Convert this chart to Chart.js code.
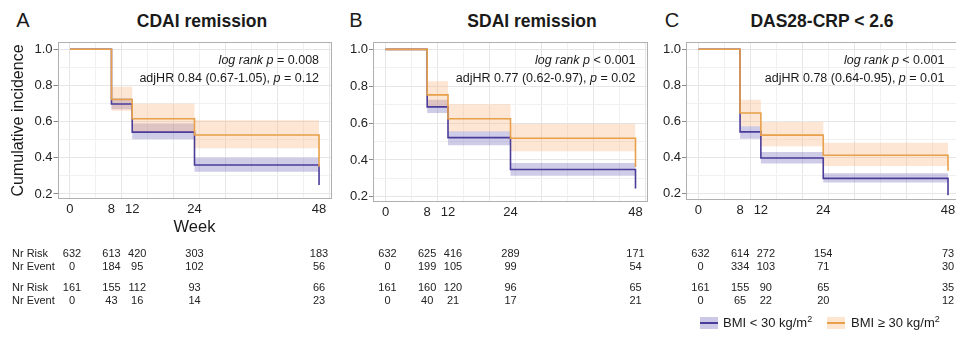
<!DOCTYPE html>
<html>
<head>
<meta charset="utf-8">
<script src="https://cdn.jsdelivr.net/npm/chart.js@4.4.0/dist/chart.umd.min.js"></script>
<style>
  body { margin: 0; width: 956px; height: 337px; overflow: hidden; background: #fff;
         font-family: Arial, "Liberation Sans", sans-serif; position: relative; color: #1a1a1a; }
  canvas { position: absolute; top: 0; }
  .titulo { position: absolute; top: 11px; font-size: 17.5px; font-weight: bold; white-space: nowrap; transform: translateX(-50%); }
  .letra { position: absolute; top: 9px; font-size: 20px; transform: translateX(-50%); }
  .clave { position: absolute; top: 317px; width: 18px; height: 12px; }
  .clave i { position: absolute; left: 0; right: 0; top: 5px; height: 2px; }
  .texto { position: absolute; top: 314px; font-size: 13px; white-space: nowrap; }
</style>
</head>
<body>
<div class="letra" style="left:23px">A</div>
<div class="letra" style="left:356px">B</div>
<div class="letra" style="left:672px">C</div>
<div class="titulo" style="left:202px">CDAI remission</div>
<div class="titulo" style="left:532px">SDAI remission</div>
<div class="titulo" style="left:822px">DAS28-CRP &lt; 2.6</div>

<canvas id="panelA" width="340" height="337" style="left:0px"></canvas>
<canvas id="panelB" width="320" height="337" style="left:335px"></canvas>
<canvas id="panelC" width="312" height="337" style="left:650px"></canvas>

<div class="clave" style="left:700px;background:rgba(110,100,185,0.35)"><i style="background:#4b3c9a"></i></div>
<div class="texto" style="left:723px">BMI &lt; 30 kg/m<sup style="font-size:9px">2</sup></div>
<div class="clave" style="left:827px;background:rgba(248,180,120,0.35)"><i style="background:#e8a04a"></i></div>
<div class="texto" style="left:851px">BMI ≥ 30 kg/m<sup style="font-size:9px">2</sup></div>

<script>
/* Semanas y marcas de los ejes */
const semanas = [0, 8, 12, 24, 48];
const etiquetasX = [0, 8, 12, 24, 48];
const gridX = [0, 5, 10, 15, 20, 25, 30, 35, 40, 45, 50];
const etiquetasY = [0.2, 0.4, 0.6, 0.8, 1.0];
const gridY = [0.2, 0.3, 0.4, 0.5, 0.6, 0.7, 0.8, 0.9, 1.0];

/* A - CDAI remission */
const cdaiBajo = [1, 0.697, 0.542, 0.360, 0.25];
const cdaiBajoSup = [1, 0.73, 0.59, 0.40, 0.25];
const cdaiBajoInf = [1, 0.668, 0.502, 0.323, 0.25];
const cdaiAlto = [1, 0.722, 0.616, 0.526, 0.35];
const cdaiAltoSup = [1, 0.792, 0.70, 0.608, 0.35];
const cdaiAltoInf = [1, 0.66, 0.54, 0.452, 0.35];

/* B - SDAI remission */
const sdaiBajo = [1, 0.688, 0.521, 0.348, 0.245];
const sdaiBajoSup = [1, 0.727, 0.556, 0.384, 0.245];
const sdaiBajoInf = [1, 0.655, 0.48, 0.314, 0.245];
const sdaiAlto = [1, 0.753, 0.624, 0.518, 0.362];
const sdaiAltoSup = [1, 0.827, 0.702, 0.597, 0.362];
const sdaiAltoInf = [1, 0.69, 0.555, 0.447, 0.362];

/* C - DAS28-CRP < 2.6 */
const dasBajo = [1, 0.541, 0.396, 0.283, 0.19];
const dasBajoSup = [1, 0.572, 0.429, 0.312, 0.19];
const dasBajoInf = [1, 0.503, 0.365, 0.26, 0.19];
const dasAlto = [1, 0.646, 0.523, 0.411, 0.325];
const dasAltoSup = [1, 0.72, 0.596, 0.481, 0.325];
const dasAltoInf = [1, 0.572, 0.462, 0.352, 0.325];

/* Tablas de riesgo: BMI<30 (riesgo, eventos), BMI>=30 (riesgo, eventos) */
const cdaiRiesgo1 = [632, 613, 420, 303, 183];
const cdaiEvento1 = [0, 184, 95, 102, 56];
const cdaiRiesgo2 = [161, 155, 112, 93, 66];
const cdaiEvento2 = [0, 43, 16, 14, 23];
const sdaiRiesgo1 = [632, 625, 416, 289, 171];
const sdaiEvento1 = [0, 199, 105, 99, 54];
const sdaiRiesgo2 = [161, 160, 120, 96, 65];
const sdaiEvento2 = [0, 40, 21, 17, 21];
const dasRiesgo1 = [632, 614, 272, 154, 73];
const dasEvento1 = [0, 334, 103, 71, 30];
const dasRiesgo2 = [161, 155, 90, 65, 35];
const dasEvento2 = [0, 65, 22, 20, 12];

/* Textos de estadística */
const logRank = [' = 0.008', ' < 0.001', ' < 0.001'];
const hrTexto = ['adjHR 0.84 (0.67-1.05), ', 'adjHR 0.77 (0.62-0.97), ', 'adjHR 0.78 (0.64-0.95), '];
const hrP = [' = 0.12', ' = 0.02', ' = 0.01'];

const morado = '#4b3c9a';
const naranja = '#e8a04a';
const bandaMorada = 'rgba(110, 100, 185, 0.33)';
const bandaNaranja = 'rgba(248, 180, 120, 0.33)';
const fuente = 'Arial, "Liberation Sans", sans-serif';

// empuje horizontal de columnas de la tabla para que no se pisen
const empuje = [2, 0, 5, 0, 0];

// marcas del eje x sin repetir (grid + etiquetas)
const marcasX = Array.from(new Set(gridX.concat(etiquetasX))).sort((a, b) => a - b);

function puntos(valores) {
    return semanas.map((s, i) => ({x: s, y: valores[i]}));
}

function textoMixto(ctx, partes, xDer, y) {
    let total = 0;
    partes.forEach(p => {
        ctx.font = (p[1] ? 'italic ' : '') + '12.5px ' + fuente;
        total += ctx.measureText(p[0]).width;
    });
    let x = xDer - total;
    partes.forEach(p => {
        ctx.font = (p[1] ? 'italic ' : '') + '12.5px ' + fuente;
        ctx.fillText(p[0], x, y);
        x += ctx.measureText(p[0]).width;
    });
}

// Dibuja el marco, las anotaciones y la tabla de riesgo
const marcoPlugin = {
    id: 'marco',
    afterDraw(chart, args, op) {
        const ctx = chart.ctx;
        const a = chart.chartArea;
        const sx = chart.scales.x;
        ctx.save();
        ctx.strokeStyle = '#b0b0b0';
        ctx.lineWidth = 1;
        ctx.strokeRect(Math.round(a.left) + 0.5, Math.round(a.top) + 0.5,
                       Math.round(a.width) - 1, Math.round(a.height) - 1);

        ctx.fillStyle = '#1a1a1a';
        ctx.textBaseline = 'middle';
        let xa = sx.getPixelForValue(op.notaX);
        textoMixto(ctx, [['log rank p', true], [logRank[op.n], false]], xa, 61);
        textoMixto(ctx, [[hrTexto[op.n], false], ['p', true], [hrP[op.n], false]], xa, 79);

        ctx.font = '11px ' + fuente;
        ctx.fillStyle = '#222';
        if (op.rotulos) {
            ctx.textAlign = 'left';
            ['Nr Risk', 'Nr Event', 'Nr Risk', 'Nr Event'].forEach((r, i) => {
                ctx.fillText(r, 12, [254, 267, 288, 301][i]);
            });
        }
        ctx.textAlign = 'center';
        op.tabla.forEach((fila, i) => {
            fila.forEach((v, j) => {
                ctx.fillText(String(v), sx.getPixelForValue(semanas[j]) + empuje[j], [254, 267, 288, 301][i]);
            });
        });
        ctx.restore();
    }
};

function crearPanel(id, cfg) {
    let ctx = document.getElementById(id).getContext('2d');
    return new Chart(ctx, {
        type: 'line',
        data: {
            datasets: [
                {data: puntos(cfg.alto), borderColor: naranja, borderWidth: 1.6, stepped: 'before', pointRadius: 0, fill: false},
                {data: puntos(cfg.bajo), borderColor: morado, borderWidth: 1.6, stepped: 'before', pointRadius: 0, fill: false},
                {data: puntos(cfg.altoSup), borderWidth: 0, borderColor: 'rgba(0,0,0,0)', stepped: 'before', pointRadius: 0, fill: false},
                {data: puntos(cfg.altoInf), borderWidth: 0, borderColor: 'rgba(0,0,0,0)', backgroundColor: bandaNaranja, stepped: 'before', pointRadius: 0, fill: '-1'},
                {data: puntos(cfg.bajoSup), borderWidth: 0, borderColor: 'rgba(0,0,0,0)', stepped: 'before', pointRadius: 0, fill: false},
                {data: puntos(cfg.bajoInf), borderWidth: 0, borderColor: 'rgba(0,0,0,0)', backgroundColor: bandaMorada, stepped: 'before', pointRadius: 0, fill: '-1'}
            ]
        },
        options: {
            responsive: false,
            animation: false,
            events: [],
            layout: {padding: {top: 42, left: 0, right: cfg.derecha, bottom: cfg.abajo}},
            plugins: {
                legend: {display: false},
                tooltip: {enabled: false},
                marco: {n: cfg.n, notaX: cfg.notaX, rotulos: cfg.rotulos, tabla: cfg.tabla}
            },
            scales: {
                x: {
                    type: 'linear',
                    min: -2.4,
                    max: 50.4,
                    afterBuildTicks: s => { s.ticks = marcasX.map(v => ({value: v})); },
                    afterFit: s => { s.height = cfg.altoEjeX; },
                    border: {display: false},
                    grid: {
                        drawTicks: false,
                        color: c => gridX.includes(c.tick.value) ? (c.tick.value % 10 === 0 ? '#e6e6e6' : '#f1f1f1') : 'rgba(0,0,0,0)'
                    },
                    ticks: {
                        autoSkip: false,
                        maxRotation: 0,
                        padding: 3,
                        color: '#222',
                        font: {size: 13, family: fuente},
                        callback: v => etiquetasX.includes(v) ? String(v) : ''
                    },
                    title: {
                        display: cfg.rotulos,
                        text: 'Week',
                        color: '#1a1a1a',
                        font: {size: 16.5, family: fuente},
                        padding: {top: 0, bottom: 3}
                    }
                },
                y: {
                    min: cfg.ymin,
                    max: 1.04,
                    afterBuildTicks: s => { s.ticks = gridY.map(v => ({value: v})); },
                    afterFit: s => { s.width = cfg.anchoEjeY; },
                    border: {display: false},
                    grid: {
                        tickLength: 4,
                        color: c => etiquetasY.includes(c.tick.value) ? '#e6e6e6' : '#f1f1f1',
                        tickColor: c => etiquetasY.includes(c.tick.value) ? '#888' : 'rgba(0,0,0,0)'
                    },
                    ticks: {
                        autoSkip: false,
                        padding: 1,
                        color: '#222',
                        font: {size: 13, family: fuente},
                        callback: v => etiquetasY.includes(v) ? v.toFixed(1) : ''
                    },
                    title: {
                        display: cfg.rotulos,
                        text: 'Cumulative incidence',
                        color: '#1a1a1a',
                        font: {size: 16, family: fuente},
                        padding: {top: 9, bottom: 0}
                    }
                }
            }
        },
        plugins: [marcoPlugin]
    });
}

crearPanel('panelA', {
    n: 0, bajo: cdaiBajo, bajoSup: cdaiBajoSup, bajoInf: cdaiBajoInf,
    alto: cdaiAlto, altoSup: cdaiAltoSup, altoInf: cdaiAltoInf,
    tabla: [cdaiRiesgo1, cdaiEvento1, cdaiRiesgo2, cdaiEvento2],
    rotulos: true, notaX: 48, ymin: 0.172,
    anchoEjeY: 57.5, derecha: 8.5, altoEjeX: 41, abajo: 97
});
crearPanel('panelB', {
    n: 1, bajo: sdaiBajo, bajoSup: sdaiBajoSup, bajoInf: sdaiBajoInf,
    alto: sdaiAlto, altoSup: sdaiAltoSup, altoInf: sdaiAltoInf,
    tabla: [sdaiRiesgo1, sdaiEvento1, sdaiRiesgo2, sdaiEvento2],
    rotulos: false, notaX: 48, ymin: 0.172,
    anchoEjeY: 38, derecha: 7, altoEjeX: 30, abajo: 105
});
crearPanel('panelC', {
    n: 2, bajo: dasBajo, bajoSup: dasBajoSup, bajoInf: dasBajoInf,
    alto: dasAlto, altoSup: dasAltoSup, altoInf: dasAltoInf,
    tabla: [dasRiesgo1, dasEvento1, dasRiesgo2, dasEvento2],
    rotulos: false, notaX: 47.3, ymin: 0.163,
    anchoEjeY: 36, derecha: 1.5, altoEjeX: 30, abajo: 107
});
</script>
</body>
</html>
